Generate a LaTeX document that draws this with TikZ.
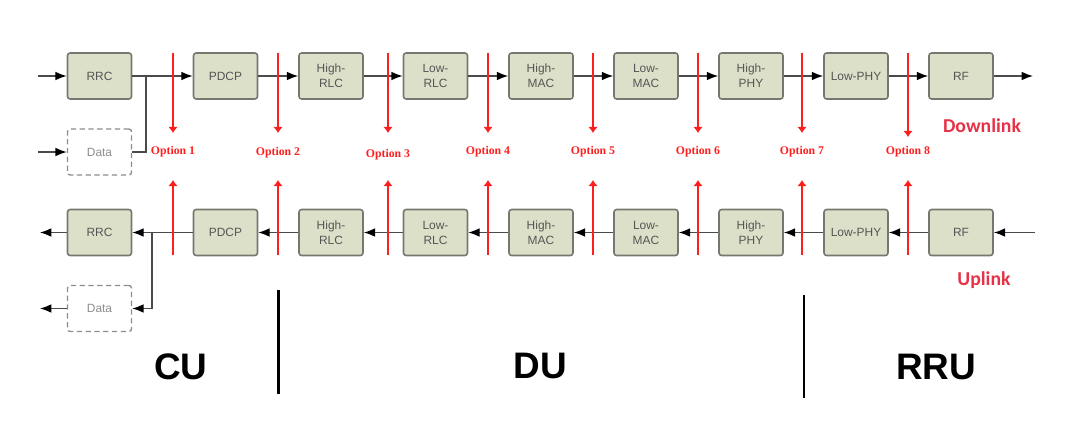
\documentclass[tikz,border=0pt]{standalone}
\usepackage{fontspec}
\setmainfont{Liberation Sans}
\newfontfamily\optionFont{Liberation Serif}
\newfontfamily\linkFont{Carlito}
\usepackage{tikz}
\usetikzlibrary{arrows.meta}
\definecolor{customFill}{HTML}{DDE0C9}
\definecolor{customBorder}{HTML}{77776F}
\definecolor{customText}{HTML}{555555}
\definecolor{customLine}{HTML}{4A4A4A}
\definecolor{customDash}{HTML}{8C8C8C}
\definecolor{customRed}{HTML}{FF1E1E}
\definecolor{customPink}{HTML}{E63246}

\begin{document}
\begin{tikzpicture} [
    x=0.02cm, y=-0.02cm,
    layerBox/.style={rectangle, rounded corners=1.5pt, draw=customBorder, line width=0.9pt, fill=customFill, minimum width=1.28cm, minimum height=0.92cm, inner sep=0pt, align=center, text=customText, font=\fontsize{6.8}{8.5}\selectfont},
    dataBox/.style={rectangle, rounded corners=1.5pt, draw=customDash, line width=0.8pt, dash pattern=on 3pt off 2pt, minimum width=1.28cm, minimum height=0.92cm, inner sep=0pt, text=customDash, font=\fontsize{6.8}{8.5}\selectfont},
    flowArrow/.style={line width=0.8pt, draw=customLine, -{Latex[length=6.5pt, width=5pt, color=black]}},
    plainLine/.style={line width=0.8pt, draw=customLine},
    splitArrow/.style={line width=0.8pt, draw=customRed, -{Latex[length=3.5pt, width=5.5pt]}},
    optionLabel/.style={text=customRed, font=\optionFont\bfseries\fontsize{6.7}{8}\selectfont},
    linkLabel/.style={text=customPink, font=\linkFont\bfseries\fontsize{11.2}{13}\selectfont},
    unitLabel/.style={font=\bfseries\fontsize{21}{24}\selectfont},
    unitBorder/.style={line width=1.7pt}
]
    \useasboundingbox (0,0) rectangle (1080,437);

    % downlink
    \node[layerBox] (dlRRC) at (99.5,76) {RRC};
    \node[layerBox] (dlPDCP) at (225.5,76) {PDCP};
    \node[layerBox] (dlHighRLC) at (331,76) {High-\\RLC};
    \node[layerBox] (dlLowRLC) at (435.5,76) {Low-\\RLC};
    \node[layerBox] (dlHighMAC) at (541,76) {High-\\MAC};
    \node[layerBox] (dlLowMAC) at (646,76) {Low-\\MAC};
    \node[layerBox] (dlHighPHY) at (751,76) {High-\\PHY};
    \node[layerBox] (dlLowPHY) at (856,76) {Low-PHY};
    \node[layerBox] (dlRF) at (961,76) {RF};
    \node[dataBox] (dlData) at (99.5,152) {Data};

    \coordinate (dlIn) at (38,76);
    \coordinate (dlDataIn) at (38,152);
    \coordinate (dlJoin) at (146,76);
    \coordinate (dlOut) at (1033,76);

    \draw [flowArrow] (dlIn) -- (dlRRC);
    \draw [flowArrow] (dlDataIn) -- (dlData);
    \draw [plainLine] (dlData) -| (dlJoin);
    \draw [flowArrow] (dlRRC) -- (dlPDCP);
    \draw [flowArrow] (dlPDCP) -- (dlHighRLC);
    \draw [flowArrow] (dlHighRLC) -- (dlLowRLC);
    \draw [flowArrow] (dlLowRLC) -- (dlHighMAC);
    \draw [flowArrow] (dlHighMAC) -- (dlLowMAC);
    \draw [flowArrow] (dlLowMAC) -- (dlHighPHY);
    \draw [flowArrow] (dlHighPHY) -- (dlLowPHY);
    \draw [flowArrow] (dlLowPHY) -- (dlRF);
    \draw [flowArrow] (dlRF) -- (dlOut);

    \node[linkLabel] (downLabel) at (982,126) {Downlink};

    % uplink
    \node[layerBox] (ulRRC) at (99.5,232.5) {RRC};
    \node[layerBox] (ulPDCP) at (225.5,232.5) {PDCP};
    \node[layerBox] (ulHighRLC) at (331,232.5) {High-\\RLC};
    \node[layerBox] (ulLowRLC) at (435.5,232.5) {Low-\\RLC};
    \node[layerBox] (ulHighMAC) at (541,232.5) {High-\\MAC};
    \node[layerBox] (ulLowMAC) at (646,232.5) {Low-\\MAC};
    \node[layerBox] (ulHighPHY) at (751,232.5) {High-\\PHY};
    \node[layerBox] (ulLowPHY) at (856,232.5) {Low-PHY};
    \node[layerBox] (ulRF) at (961,232.5) {RF};
    \node[dataBox] (ulData) at (99.5,308.5) {Data};

    \coordinate (ulIn) at (1035,232.5);
    \coordinate (ulOut) at (40,232.5);
    \coordinate (ulDataOut) at (40,308.5);
    \coordinate (ulJoin) at (152,232.5);

    \draw [flowArrow] (ulIn) -- (ulRF);
    \draw [flowArrow] (ulRF) -- (ulLowPHY);
    \draw [flowArrow] (ulLowPHY) -- (ulHighPHY);
    \draw [flowArrow] (ulHighPHY) -- (ulLowMAC);
    \draw [flowArrow] (ulLowMAC) -- (ulHighMAC);
    \draw [flowArrow] (ulHighMAC) -- (ulLowRLC);
    \draw [flowArrow] (ulLowRLC) -- (ulHighRLC);
    \draw [flowArrow] (ulHighRLC) -- (ulPDCP);
    \draw [flowArrow] (ulPDCP) -- (ulRRC);
    \draw [flowArrow] (ulJoin) |- (ulData);
    \draw [flowArrow] (ulRRC) -- (ulOut);
    \draw [flowArrow] (ulData) -- (ulDataOut);

    \node[linkLabel] (upLabel) at (984,280) {Uplink};

    % split options
    \node[optionLabel] (opt1) at (173,152) {Option 1};
    \coordinate (opt1DlTop) at (173,53);
    \coordinate (opt1DlTip) at (173,133);
    \coordinate (opt1UlBot) at (173,255);
    \coordinate (opt1UlTip) at (173,180);
    \draw [splitArrow] (opt1DlTop) -- (opt1DlTip);
    \draw [splitArrow] (opt1UlBot) -- (opt1UlTip);

    \node[optionLabel] (opt2) at (278,153) {Option 2};
    \coordinate (opt2DlTop) at (278,53);
    \coordinate (opt2DlTip) at (278,133);
    \coordinate (opt2UlBot) at (278,255);
    \coordinate (opt2UlTip) at (278,180);
    \draw [splitArrow] (opt2DlTop) -- (opt2DlTip);
    \draw [splitArrow] (opt2UlBot) -- (opt2UlTip);

    \node[optionLabel] (opt3) at (388,155) {Option 3};
    \coordinate (opt3DlTop) at (388,53);
    \coordinate (opt3DlTip) at (388,133);
    \coordinate (opt3UlBot) at (388,255);
    \coordinate (opt3UlTip) at (388,180);
    \draw [splitArrow] (opt3DlTop) -- (opt3DlTip);
    \draw [splitArrow] (opt3UlBot) -- (opt3UlTip);

    \node[optionLabel] (opt4) at (488,152) {Option 4};
    \coordinate (opt4DlTop) at (488,53);
    \coordinate (opt4DlTip) at (488,133);
    \coordinate (opt4UlBot) at (488,255);
    \coordinate (opt4UlTip) at (488,180);
    \draw [splitArrow] (opt4DlTop) -- (opt4DlTip);
    \draw [splitArrow] (opt4UlBot) -- (opt4UlTip);

    \node[optionLabel] (opt5) at (593,152) {Option 5};
    \coordinate (opt5DlTop) at (593,53);
    \coordinate (opt5DlTip) at (593,133);
    \coordinate (opt5UlBot) at (593,255);
    \coordinate (opt5UlTip) at (593,180);
    \draw [splitArrow] (opt5DlTop) -- (opt5DlTip);
    \draw [splitArrow] (opt5UlBot) -- (opt5UlTip);

    \node[optionLabel] (opt6) at (698,152) {Option 6};
    \coordinate (opt6DlTop) at (698,53);
    \coordinate (opt6DlTip) at (698,133);
    \coordinate (opt6UlBot) at (698,255);
    \coordinate (opt6UlTip) at (698,180);
    \draw [splitArrow] (opt6DlTop) -- (opt6DlTip);
    \draw [splitArrow] (opt6UlBot) -- (opt6UlTip);

    \node[optionLabel] (opt7) at (802,152) {Option 7};
    \coordinate (opt7DlTop) at (802,53);
    \coordinate (opt7DlTip) at (802,133);
    \coordinate (opt7UlBot) at (802,255);
    \coordinate (opt7UlTip) at (802,180);
    \draw [splitArrow] (opt7DlTop) -- (opt7DlTip);
    \draw [splitArrow] (opt7UlBot) -- (opt7UlTip);

    \node[optionLabel] (opt8) at (908,152) {Option 8};
    \coordinate (opt8DlTop) at (908,53);
    \coordinate (opt8DlTip) at (908,137);
    \coordinate (opt8UlBot) at (908,255);
    \coordinate (opt8UlTip) at (908,180);
    \draw [splitArrow] (opt8DlTop) -- (opt8DlTip);
    \draw [splitArrow] (opt8UlBot) -- (opt8UlTip);

    % units
    \node[unitLabel] (cu) at (181,367) {CU};
    \node[unitLabel] (du) at (540.5,366) {DU};
    \node[unitLabel] (rru) at (936,367) {RRU};

    \coordinate (cuTop) at (278.5,290);
    \coordinate (cuBot) at (278.5,394);
    \draw [unitBorder] (cuTop) -- (cuBot);

    \coordinate (duTop) at (804,295);
    \coordinate (duBot) at (804,398);
    \draw [unitBorder] (duTop) -- (duBot);

\end{tikzpicture}
\end{document}
